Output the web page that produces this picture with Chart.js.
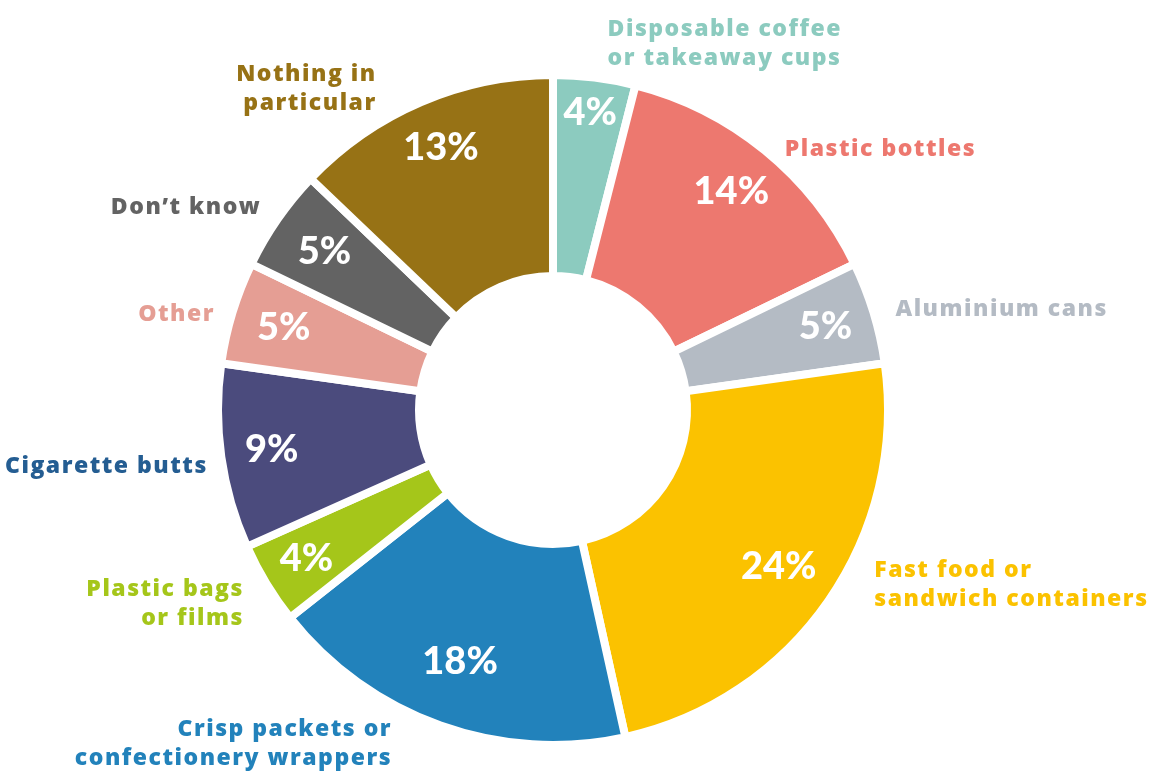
<!DOCTYPE html>
<html>
<head>
<meta charset="utf-8">
<script src="https://cdn.jsdelivr.net/npm/chart.js@4"></script>
<style>
html,body{margin:0;padding:0;background:#fff;}
#wrap{width:1149px;height:771px;position:relative;}
</style>
</head>
<body>
<div id="wrap"><canvas id="c" width="1149" height="771"></canvas></div>
<script>
// ---- data ----
const categories = [
  ["Disposable coffee", "or takeaway cups"],
  ["Plastic bottles"],
  ["Aluminium cans"],
  ["Fast food or", "sandwich containers"],
  ["Crisp packets or", "confectionery wrappers"],
  ["Plastic bags", "or films"],
  ["Cigarette butts"],
  ["Other"],
  ["Don\u2019t know"],
  ["Nothing in", "particular"]
];
const values = [4, 14, 5, 24, 18, 4, 9, 5, 5, 13];
const sliceColors = ["#8ccbbf", "#ed786f", "#b4bbc4", "#fbc200", "#2282bb", "#a5c61a", "#4b4b7d", "#e59e94", "#636363", "#977215"];
const labelColors = ["#8ccbbf", "#ed786f", "#b4bbc4", "#fbc200", "#2282bb", "#a5c61a", "#245d92", "#e59e94", "#636363", "#977215"];

// ---- label layout (not data) ----
const pctRadius = [0.895, 0.842, 0.85, 0.82, 0.80, 0.86, 0.848, 0.84, 0.83, 0.85];
const pctAngleShift = [0, 0, 0, 0, 0.012, 0, 0, 0, 0, 0];
const labelNudge = [[13,-34],[20,-1],[22,-3],[46,-16],[-50,18],[-24,20],[-15,10],[-19,2],[-18,-12],[-46,-13]];
const labelAlign = ["left","left","left","left","right","right","right","right","right","right"];

const labelPlugin = {
  id: 'labels',
  afterDatasetsDraw(chart) {
    const ctx = chart.ctx;
    const meta = chart.getDatasetMeta(0);
    meta.data.forEach((arc, i) => {
      const p = arc.getProps(['x','y','startAngle','endAngle','outerRadius','innerRadius'], true);
      const mid = (p.startAngle + p.endAngle) / 2;
      const R = p.outerRadius;
      ctx.save();
      ctx.fillStyle = '#ffffff';
      ctx.font = '900 38px Lato';
      ctx.textAlign = 'center';
      ctx.textBaseline = 'middle';
      const r = R * pctRadius[i];
      const a = mid + pctAngleShift[i];
      ctx.fillText(values[i] + '%', p.x + Math.cos(a) * r, p.y + Math.sin(a) * r);
      // outer label
      const ax = p.x + Math.cos(mid) * R + labelNudge[i][0];
      const ay = p.y + Math.sin(mid) * R + labelNudge[i][1];
      ctx.fillStyle = labelColors[i];
      ctx.font = '800 23px "Open Sans"';
      ctx.letterSpacing = '1.5px';
      ctx.textAlign = labelAlign[i];
      const lines = categories[i];
      const lh = 29;
      lines.forEach((ln, k) => {
        const x = labelAlign[i] === 'right' ? ax + 1.5 : ax;
        ctx.fillText(ln, x, ay + (k - (lines.length - 1) / 2) * lh);
      });
      ctx.restore();
    });
  }
};

new Chart(document.getElementById('c'), {
  type: 'doughnut',
  data: {
    labels: categories.map(l => l.join(' ')),
    datasets: [{
      data: values,
      backgroundColor: sliceColors,
      borderColor: '#ffffff',
      borderWidth: 8,
      borderJoinStyle: 'miter',
      spacing: 0
    }]
  },
  options: {
    responsive: false,
    animation: false,
    cutout: '40%',
    rotation: 0,
    layout: { padding: { left: 214, right: 257, top: 71, bottom: 22 } },
    plugins: { legend: { display: false }, tooltip: { enabled: false } }
  },
  plugins: [labelPlugin]
});
</script>
</body>
</html>
